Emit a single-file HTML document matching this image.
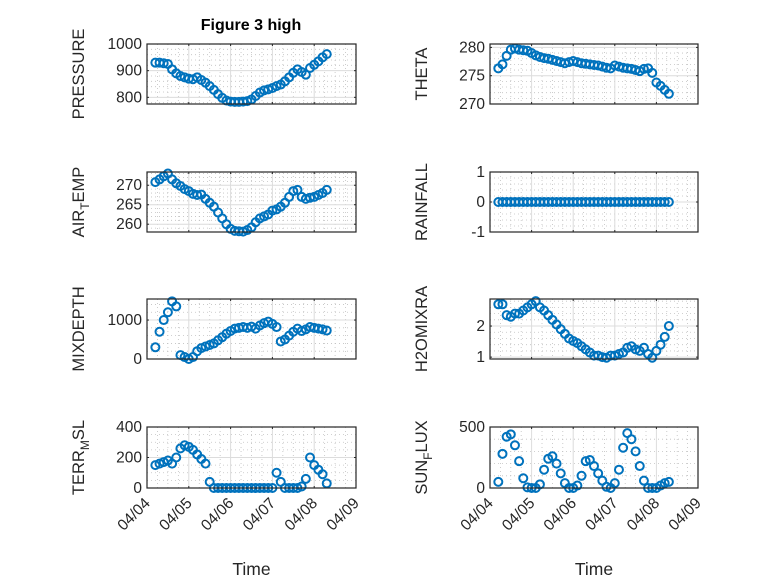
<!DOCTYPE html>
<html><head><meta charset="utf-8"><style>
body{margin:0;background:#fff;}
svg text{font-family:"Liberation Sans","DejaVu Sans",sans-serif;fill:#262626;}
</style></head><body>
<svg id="fig" width="778" height="583" viewBox="0 0 778 583" xmlns="http://www.w3.org/2000/svg">
<rect width="778" height="583" fill="#fff"/>
<text x="251" y="30" text-anchor="middle" font-size="16" font-weight="bold" style="fill:#000">Figure 3 high</text>
</svg>
<script>
const times=[0.2,0.3,0.4,0.5,0.6,0.7,0.8,0.9,1.0,1.1,1.2,1.3,1.4,1.5,1.6,1.7,1.8,1.9,2.0,2.1,2.2,2.3,2.4,2.5,2.6,2.7,2.8,2.9,3.0,3.1,3.2,3.3,3.4,3.5,3.6,3.7,3.8,3.9,4.0,4.1,4.2,4.3];
const xTickLabels=["04/04","04/05","04/06","04/07","04/08","04/09"];
const pressure=[930,930,928,925,905,890,880,875,870,868,875,865,855,842,828,812,798,788,784,783,783,784,786,792,805,818,826,830,835,842,848,860,875,892,905,895,885,910,922,935,950,962];
const theta=[276.3,277,278.5,279.6,279.8,279.6,279.5,279.4,279,278.6,278.3,278.1,278,277.8,277.6,277.4,277.2,277.4,277.6,277.4,277.2,277.1,277,276.9,276.8,276.6,276.4,276.3,276.8,276.6,276.4,276.3,276.2,276,275.8,276.2,276.3,275.5,273.8,273.2,272.5,271.8];
const airTemp=[270.8,271.5,272.3,273,271.5,270.5,269.8,269,268.5,267.8,267.5,267.6,266.5,265.5,264.5,263,261.5,260,258.8,258.3,258.2,258.1,258.5,259.2,260.5,261.5,262,262.5,263.5,263.8,264.5,265.5,267,268.5,268.8,267,266.5,266.8,267,267.5,268,268.8];
const rainfall=[0,0,0,0,0,0,0,0,0,0,0,0,0,0,0,0,0,0,0,0,0,0,0,0,0,0,0,0,0,0,0,0,0,0,0,0,0,0,0,0,0,0];
const mixDepth=[300,700,1000,1200,1480,1350,100,50,0,50,200,280,320,360,400,480,560,650,720,780,800,820,800,830,780,860,920,960,900,820,450,500,600,700,780,720,760,820,800,780,760,730];
const h2oMix=[2.7,2.7,2.35,2.3,2.4,2.4,2.5,2.6,2.7,2.8,2.6,2.5,2.35,2.2,2.05,1.9,1.75,1.6,1.52,1.45,1.35,1.25,1.15,1.05,1.05,1.0,0.98,1.05,1.05,1.1,1.15,1.3,1.35,1.25,1.2,1.3,1.1,0.98,1.2,1.4,1.65,2.0];
const terrMsl=[150,160,170,180,160,200,260,280,270,250,220,190,160,40,0,0,0,0,0,0,0,0,0,0,0,0,0,0,0,100,40,0,0,0,0,10,60,200,150,120,90,30];
const sunFlux=[50,280,420,440,350,220,80,5,0,0,30,150,240,260,200,120,40,0,0,20,100,220,230,180,120,60,10,0,40,150,330,450,400,300,180,60,0,0,0,20,40,50];

const NS="http://www.w3.org/2000/svg";
const svg=document.getElementById('fig');
function mk(tag,attrs,parent){const e=document.createElementNS(NS,tag);for(const k in attrs)e.setAttribute(k,attrs[k]);(parent||svg).appendChild(e);return e;}

const panels=[
 {name:'pressure',label:'PRESSURE',data:pressure,x0:147,x1:356,y0:44,y1:104,ymin:775,ymax:1000,ticks:[800,900,1000],minor:20},
 {name:'theta',label:'THETA',data:theta,x0:490,x1:698,y0:44,y1:104,ymin:270,ymax:280.6,ticks:[270,275,280],minor:1},
 {name:'air-temp',label:'AIR_T_EMP',data:airTemp,x0:147,x1:356,y0:172,y1:232,ymin:258,ymax:273.4,ticks:[260,265,270],minor:1},
 {name:'rainfall',label:'RAINFALL',data:rainfall,x0:490,x1:698,y0:172,y1:232,ymin:-1,ymax:1,ticks:[-1,0,1],minor:0.2},
 {name:'mixdepth',label:'MIXDEPTH',data:mixDepth,x0:147,x1:356,y0:299,y1:359,ymin:0,ymax:1540,ticks:[0,1000],minor:200},
 {name:'h2omixra',label:'H2OMIXRA',data:h2oMix,x0:490,x1:698,y0:299,y1:359,ymin:0.94,ymax:2.87,ticks:[1,2],minor:0.2},
 {name:'terr-msl',label:'TERR_M_SL',data:terrMsl,x0:147,x1:356,y0:427,y1:488,ymin:0,ymax:400,ticks:[0,200,400],minor:50},
 {name:'sun-flux',label:'SUN_F_LUX',data:sunFlux,x0:490,x1:698,y0:427,y1:488,ymin:0,ymax:500,ticks:[0,500],minor:100},
];

panels.forEach((p,pi)=>{
 const g=mk('g',{});
 
 
 const xs=t=>p.x0+(t/5)*(p.x1-p.x0);
 const ys=v=>p.y1-(v-p.ymin)/(p.ymax-p.ymin)*(p.y1-p.y0);
 mk('rect',{x:p.x0,y:p.y0,width:p.x1-p.x0,height:p.y1-p.y0,fill:'#fff'},g);
 for(let t=0;t<5;t+=0.25){if(Math.abs(t-Math.round(t))<1e-6)continue;const x=xs(t);mk('line',{x1:x,x2:x,y1:p.y0,y2:p.y1,stroke:'#c0c0c0','stroke-width':0.8,'stroke-dasharray':'1 3'},g);}
 const ms=Math.ceil(p.ymin/p.minor)*p.minor;
 for(let v=ms;v<=p.ymax+1e-9;v+=p.minor){if(p.ticks.some(t=>Math.abs(t-v)<1e-6))continue;const y=ys(v);mk('line',{x1:p.x0,x2:p.x1,y1:y,y2:y,stroke:'#c0c0c0','stroke-width':0.8,'stroke-dasharray':'1 3'},g);}
 for(let d=1;d<5;d++){const x=xs(d);mk('line',{x1:x,x2:x,y1:p.y0,y2:p.y1,stroke:'#dcdcdc','stroke-width':1},g);}
 p.ticks.forEach(v=>{const y=ys(v);mk('line',{x1:p.x0,x2:p.x1,y1:y,y2:y,stroke:'#dcdcdc','stroke-width':1},g);
  const tl=mk('text',{x:p.x0-5,y:y+5,'text-anchor':'end','font-size':15.5},g);tl.textContent=String(v);
  
  
  mk('line',{x1:p.x0,x2:p.x0+2,y1:y,y2:y,stroke:'#262626'},g);mk('line',{x1:p.x1,x2:p.x1-2,y1:y,y2:y,stroke:'#262626'},g);});
 for(let d=0;d<=5;d++){const x=xs(d);mk('line',{x1:x,x2:x,y1:p.y1,y2:p.y1-2,stroke:'#262626'},g);mk('line',{x1:x,x2:x,y1:p.y0,y2:p.y0+2,stroke:'#262626'},g);}
 p.data.forEach((v,i)=>{const c=mk('circle',{cx:xs(times[i]),cy:ys(v),r:4,fill:'none',stroke:'#0072BD','stroke-width':2},g);
  
  });
 mk('rect',{x:p.x0,y:p.y0,width:p.x1-p.x0,height:p.y1-p.y0,fill:'none',stroke:'#262626','stroke-width':1.2},g);
 const lx=(p.x0<400)?84:427, ly=(p.y0+p.y1)/2;
 const yl=mk('text',{x:lx,y:ly,'text-anchor':'middle','font-size':16.5,transform:`rotate(-90 ${lx} ${ly})`},g);
 
 
 const parts=p.label.split('_');
 if(parts.length===3){yl.appendChild(document.createTextNode(parts[0]));const s=document.createElementNS(NS,'tspan');s.setAttribute('dy','5');s.setAttribute('font-size','12');s.textContent=parts[1];yl.appendChild(s);const s2=document.createElementNS(NS,'tspan');s2.setAttribute('dy','-5');s2.textContent=parts[2];yl.appendChild(s2);}
 else yl.textContent=p.label;
 if(pi>=6){
  xTickLabels.forEach((lab,d)=>{const x=xs(d)+4,y=p.y1+16;const t=mk('text',{x:x,y:y,'text-anchor':'end','font-size':15.5,transform:`rotate(-45 ${x} ${y})`},g);t.textContent=lab;
   
   });
  const xt=mk('text',{x:(p.x0+p.x1)/2,y:575,'text-anchor':'middle','font-size':17.5},g);xt.textContent='Time';
  
  
 }
});
</script>
</body></html>
